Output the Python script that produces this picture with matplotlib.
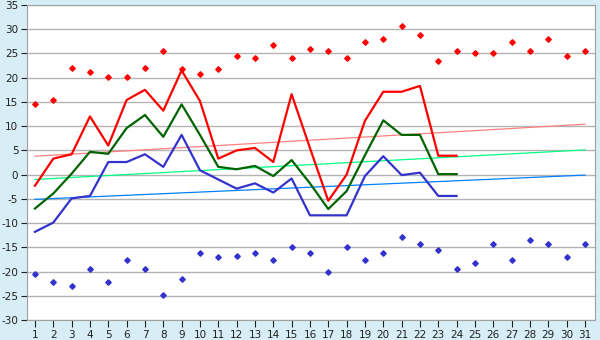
import numpy as np
import matplotlib.pyplot as plt

# day of month
days = np.arange(1, 32)
obs_days = np.arange(1, 25)

# daily max / mean / min temperature (observed days only)
t_max = [-2.3, 3.3, 4.2, 12.0, 6.0, 15.4, 17.5, 13.2, 21.5, 15.2,
         3.3, 5.0, 5.5, 2.6, 16.6, 5.5, -5.4, 0.0, 11.1, 17.1,
         17.1, 18.3, 3.9, 3.9]
t_mean = [-7.0, -3.9, 0.2, 4.7, 4.3, 9.6, 12.3, 7.8, 14.5, 8.2,
          1.6, 1.1, 1.8, -0.3, 3.0, -1.8, -7.1, -3.4, 4.0, 11.2,
          8.2, 8.2, 0.1, 0.1]
t_min = [-11.8, -9.9, -4.9, -4.4, 2.6, 2.6, 4.2, 1.6, 8.2, 0.9,
         -1.0, -2.9, -1.8, -3.7, -0.8, -8.4, -8.4, -8.4, -0.3, 3.8,
         -0.1, 0.4, -4.4, -4.4]

# record highs / lows for each day
rec_high = [14.5, 15.5, 22.1, 21.1, 20.1, 20.1, 22.1, 25.5, 21.7, 20.7,
            21.7, 24.4, 24.0, 26.7, 24.0, 26.0, 25.6, 24.0, 27.3, 27.9,
            30.6, 28.9, 23.4, 25.6, 25.0, 25.0, 27.3, 25.6, 27.9, 24.4,
            25.6]
rec_low = [-20.6, -22.2, -22.9, -19.4, -22.2, -17.7, -19.4, -24.9, -21.6, -16.1,
           -17.1, -16.7, -16.1, -17.6, -15.0, -16.1, -20.0, -15.0, -17.6, -16.1,
           -12.8, -14.4, -15.6, -19.4, -18.3, -14.4, -17.7, -13.4, -14.4, -17.1,
           -14.4]

# climate normal trends (value on day 1, value on day 31)
trend_max = [3.8, 10.4]
trend_mean = [-1.0, 5.1]
trend_min = [-5.1, -0.1]

bg = '#d8eef6'
fig = plt.figure(figsize=(6, 3.4), dpi=100, facecolor=bg)
ax = fig.add_axes([0.0445, 0.0588, 0.9472, 0.9265])
ax.set_facecolor('white')

ax.plot([1, 31], trend_max, color='#ff8080', lw=0.9, zorder=2)
ax.plot([1, 31], trend_mean, color='#00ff80', lw=0.9, zorder=2)
ax.plot([1, 31], trend_min, color='#0080ff', lw=0.9, zorder=2)

ax.plot(obs_days, t_max, color='#ff0000', lw=1.6, zorder=3)
ax.plot(obs_days, t_mean, color='#006400', lw=1.6, zorder=3)
ax.plot(obs_days, t_min, color='#3333cc', lw=1.6, zorder=3)

ax.plot(days, rec_high, ls='none', marker='D', ms=2.8, color='#ff0000', zorder=4)
ax.plot(days, rec_low, ls='none', marker='D', ms=2.8, color='#3333cc', zorder=4)

ax.set_xlim(0.55, 31.55)
ax.set_ylim(-30, 35)
ax.set_xticks(days)
ax.set_yticks(np.arange(-30, 36, 5))
ax.yaxis.grid(True, color='#b4b4b4', lw=1)
ax.set_axisbelow(True)

plt.rcParams['axes.unicode_minus'] = False
ax.set_yticklabels([str(v) for v in range(-30, 36, 5)])
ax.tick_params(axis='both', labelsize=7.5, colors='#202020', direction='out')
ax.tick_params(axis='x', length=5, pad=2)
ax.tick_params(axis='y', length=4, pad=2)
for s in ax.spines.values():
    s.set_color('#a0a0a0')

fig.savefig('out.png', dpi=100, facecolor=bg)
